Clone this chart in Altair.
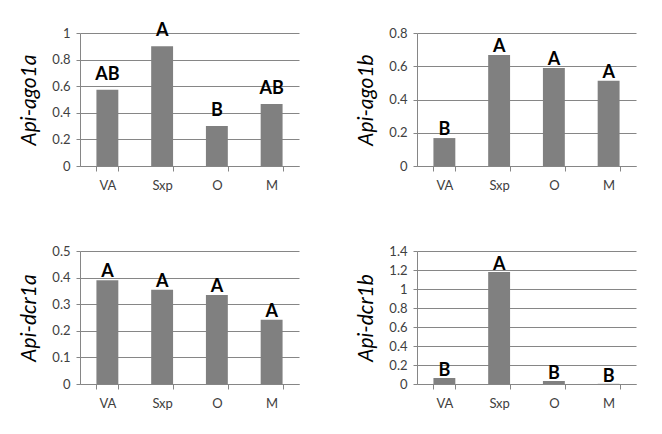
import altair as alt
import pandas as pd

categories = ["VA", "Sxp", "O", "M"]

ago1a_values = [0.574, 0.90, 0.30, 0.466]
ago1a_letters = ["AB", "A", "B", "AB"]
ago1b_values = [0.168, 0.668, 0.589, 0.513]
ago1b_letters = ["B", "A", "A", "A"]
dcr1a_values = [0.39, 0.354, 0.335, 0.242]
dcr1a_letters = ["A", "A", "A", "A"]
dcr1b_values = [0.063, 1.179, 0.032, 0.002]
dcr1b_letters = ["B", "A", "B", "B"]

ago1a_ticks = [0, 0.2, 0.4, 0.6, 0.8, 1]
ago1b_ticks = [0, 0.2, 0.4, 0.6, 0.8]
dcr1a_ticks = [0, 0.1, 0.2, 0.3, 0.4, 0.5]
dcr1b_ticks = [0, 0.2, 0.4, 0.6, 0.8, 1, 1.2, 1.4]

FONT = "Lato"
AXIS_COLOR = "#868686"
BAR_COLOR = "#808080"


def panel(title, values, letters, ticks, dy):
    df = pd.DataFrame({"cat": categories, "val": values, "letter": letters})
    x = alt.X("cat:N", sort=categories, title=None,
              scale=alt.Scale(paddingInner=0.6, paddingOuter=0.3),
              axis=alt.Axis(labelAngle=0, labelFont=FONT, labelFontSize=13,
                            labelColor="#404040", labelPadding=8,
                            tickBand="extent", tickSize=5, tickColor=AXIS_COLOR,
                            domainColor=AXIS_COLOR, grid=False))
    y = alt.Y("val:Q", title=title,
              scale=alt.Scale(domain=[ticks[0], ticks[-1]], nice=False, zero=True),
              axis=alt.Axis(values=ticks, format="~g", labelFont=FONT,
                            labelFontSize=13, labelColor="#404040",
                            labelOverlap=False, labelPadding=6, tickSize=4,
                            tickColor=AXIS_COLOR, domainColor=AXIS_COLOR,
                            gridColor=AXIS_COLOR, titleFont=FONT,
                            titleFontSize=21, titleFontStyle="italic",
                            titleFontWeight="normal", titleColor="#000000",
                            titlePadding=12))
    base = alt.Chart(df).encode(x=x, y=y)
    bars = base.mark_bar(color=BAR_COLOR)
    text = base.mark_text(font=FONT, fontSize=18, fontWeight="bold",
                          color="#000000", dy=dy).encode(text="letter:N")
    return alt.layer(bars, text).properties(width=219, height=133)


p1 = panel("Api-ago1a", ago1a_values, ago1a_letters, ago1a_ticks, -15)
p2 = panel("Api-ago1b", ago1b_values, ago1b_letters, ago1b_ticks, -8)
p3 = panel("Api-dcr1a", dcr1a_values, dcr1a_letters, dcr1a_ticks, -8)
p4 = panel("Api-dcr1b", dcr1b_values, dcr1b_letters, dcr1b_ticks, -7)

chart = alt.concat(p1, p2, p3, p4, columns=2, spacing={"row": 85, "column": 118},
                   bounds="flush").configure_view(stroke=None).properties(
    padding={"left": 10, "top": 14, "right": 5, "bottom": 5},
    background="white")

chart.save("out.html", embed_options={"renderer": "svg", "actions": False})
